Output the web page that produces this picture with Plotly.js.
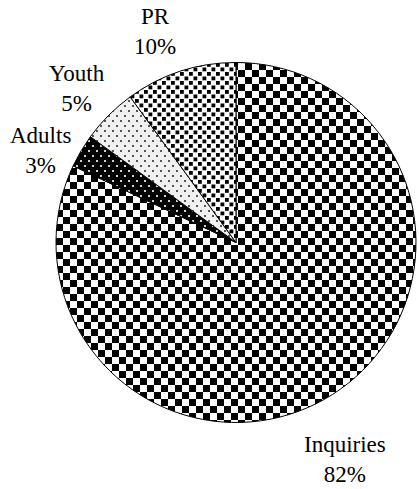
<!DOCTYPE html>
<html>
<head>
<meta charset="utf-8">
<script src="https://cdn.plot.ly/plotly-3.0.1.min.js"></script>
<style>
  html, body { margin: 0; padding: 0; background: #ffffff; }
  #chart { width: 419px; height: 489px; }
</style>
</head>
<body>
<div id="chart"></div>
<script>
// ---- data ----
const categories = ["Inquiries", "Adults", "Youth", "PR"];
const values = [82, 3, 5, 10];

// ---- styling / layout constants ----
const W = 419, H = 489;
const FONT = "Liberation Serif";
const fallbackColors = ["#808080", "#202020", "#e8e8e8", "#b0b0b0"];
const patternIds = ["patChecker", "patDarkDots", "patLightDots", "patMedDots"];
// label block centres in pixels (layout only)
const labelPos = [[345, 459], [40, 150], [77, 88], [155, 31]];
const pie = { cx: 236, cy: 242.5, r: 180 };

const total = values.reduce((a, b) => a + b, 0);
const pctText = values.map(v => Math.round(v / total * 100) + "%");

const data = [{
  type: "pie",
  labels: categories,
  values: values,
  sort: false,
  direction: "clockwise",
  rotation: 0,
  textinfo: "none",
  hoverinfo: "skip",
  showlegend: false,
  marker: { colors: fallbackColors, line: { color: "#000000", width: 1 } },
  domain: {
    x: [(pie.cx - pie.r) / W, (pie.cx + pie.r) / W],
    y: [1 - (pie.cy + pie.r) / H, 1 - (pie.cy - pie.r) / H]
  }
}];

const annotations = categories.map((c, i) => ({
  text: c + "<br>" + pctText[i],
  x: labelPos[i][0] / W,
  y: 1 - labelPos[i][1] / H,
  xref: "paper", yref: "paper",
  xanchor: "center", yanchor: "middle",
  showarrow: false,
  align: "center",
  font: { family: FONT, size: 23, color: "#000000" }
}));

const layout = {
  width: W, height: H,
  margin: { l: 0, r: 0, t: 0, b: 0 },
  paper_bgcolor: "#ffffff",
  plot_bgcolor: "#ffffff",
  showlegend: false,
  font: { family: FONT },
  annotations: annotations
};

function addPatterns(gd) {
  const NS = "http://www.w3.org/2000/svg";
  const svg = gd.querySelector(".main-svg");
  let defs = svg.querySelector("defs");
  if (!defs) { defs = document.createElementNS(NS, "defs"); svg.insertBefore(defs, svg.firstChild); }
  function pat(id, w, h, shapes) {
    const p = document.createElementNS(NS, "pattern");
    p.setAttribute("id", id);
    p.setAttribute("patternUnits", "userSpaceOnUse");
    p.setAttribute("width", w);
    p.setAttribute("height", h);
    shapes.forEach(s => {
      const r = document.createElementNS(NS, "rect");
      r.setAttribute("x", s[0]); r.setAttribute("y", s[1]);
      r.setAttribute("width", s[2]); r.setAttribute("height", s[3]);
      r.setAttribute("fill", s[4]);
      p.appendChild(r);
    });
    defs.appendChild(p);
  }
  pat("patChecker", 14, 14, [[0, 0, 14, 14, "#ffffff"], [0, 0, 7, 7, "#000000"], [7, 7, 7, 7, "#000000"]]);
  pat("patMedDots", 9, 9, [[0, 0, 9, 9, "#ffffff"], [0, 0, 3.8, 3.8, "#000000"], [4.5, 4.5, 3.8, 3.8, "#000000"]]);
  pat("patLightDots", 8, 10, [[0, 0, 8, 10, "#f0f0f0"], [0, 0, 2, 2, "#555555"], [4, 5, 2, 2, "#555555"]]);
  pat("patDarkDots", 8, 10, [[0, 0, 8, 10, "#000000"], [0, 0, 2, 2, "#d0d0d0"], [4, 5, 2, 2, "#d0d0d0"]]);
  const paths = gd.querySelectorAll("g.slice path.surface");
  paths.forEach((p, i) => {
    if (patternIds[i]) p.style.fill = "url(#" + patternIds[i] + ")";
  });
}

Plotly.newPlot("chart", data, layout, { displayModeBar: false }).then(addPatterns);
</script>
</body>
</html>
